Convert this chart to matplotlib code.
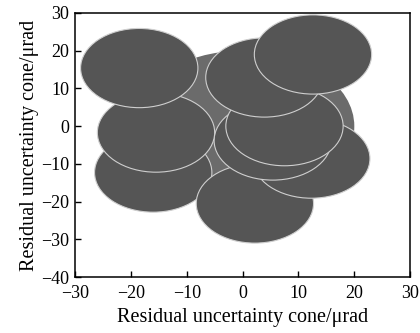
import matplotlib
matplotlib.use("Agg")
import matplotlib.pyplot as plt
from matplotlib.patches import Circle

# residual cone (big circle) and individual residual cones, in draw order
cone_x = 0.0
cone_y = 0.0
cone_r = 20.0

circle_x = [-16.0, 2.2, 12.3, 5.4, 7.5, -15.5, 3.9, -18.5, 12.6]
circle_y = [-12.3, -20.5, -8.6, -3.8, 0.0, -1.7, 12.9, 15.4, 19.0]
circle_r = 10.5

x_ticks = [-30, -20, -10, 0, 10, 20, 30]
y_ticks = [-40, -30, -20, -10, 0, 10, 20, 30]

plt.rcParams["font.family"] = ["Liberation Serif", "DejaVu Serif"]
plt.rcParams["font.size"] = 13

fig = plt.figure(figsize=(4.2, 3.33), dpi=100)
ax = fig.add_axes([0.1786, 0.168, 0.798, 0.793])

ax.add_patch(Circle((cone_x, cone_y), cone_r, facecolor="#6b6b6b", edgecolor="none", zorder=1))
for i, (cx, cy) in enumerate(zip(circle_x, circle_y)):
    ax.add_patch(Circle((cx, cy), circle_r, facecolor="#555555", edgecolor="#cfcfcf",
                        linewidth=0.8, zorder=2 + i))

ax.set_xlim(-30, 30)
ax.set_ylim(-40, 30)
ax.set_xticks(x_ticks)
ax.set_yticks(y_ticks)
ax.tick_params(axis="x", direction="in", length=4, width=1, top=False, pad=6)
ax.tick_params(axis="y", direction="in", length=4, width=1, right=False, pad=4)
for sp in ax.spines.values():
    sp.set_linewidth(1.1)
ax.set_xlabel("Residual uncertainty cone/μrad", fontsize=14.5, labelpad=4)
ax.set_ylabel("Residual uncertainty cone/μrad", fontsize=14.5, labelpad=2)

fig.savefig("out.png", dpi=100)
